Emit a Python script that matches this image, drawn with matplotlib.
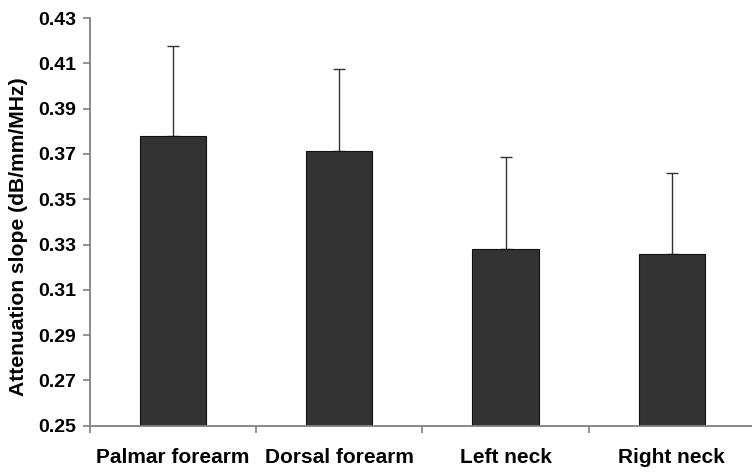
import matplotlib
matplotlib.use("Agg")
import matplotlib.pyplot as plt
import numpy as np

# -------------------------------------------------------------------
# Data
# -------------------------------------------------------------------
sites = ["Palmar forearm", "Dorsal forearm", "Left neck", "Right neck"]
means = [0.378, 0.3715, 0.328, 0.326]
sds = [0.0397, 0.036, 0.0407, 0.0355]
y_ticks = [0.25, 0.27, 0.29, 0.31, 0.33, 0.35, 0.37, 0.39, 0.41, 0.43]

plt.rcParams["font.family"] = ["Liberation Sans", "DejaVu Sans"]
plt.rcParams["font.weight"] = "bold"

fig = plt.figure(figsize=(7.52, 4.75), dpi=100)
ax = fig.add_axes([89.7 / 752, 49.3 / 475, 665.3 / 752, 407.7 / 475])

x = np.arange(len(sites))
ax.bar(x, means, width=0.4, color="#333333", edgecolor="#111111", linewidth=0.8, zorder=2)
ax.errorbar(x, means, yerr=[np.zeros(len(sds)), sds], fmt="none",
            ecolor="#333333", elinewidth=1.0, capsize=4, capthick=1.0, zorder=1)

ax.set_xlim(-0.5, 3.5)
ax.set_ylim(0.25, 0.43)
ax.set_yticks(y_ticks)
ax.set_yticklabels([f"{v:.2f}" for v in y_ticks], fontsize=14, fontweight="bold")

# category labels centred, ticks between categories
ax.set_xticks(np.arange(-0.5, 3.6, 1.0))
ax.set_xticklabels([])
ax.set_xticks(x, minor=True)
ax.set_xticklabels(sites, minor=True, fontsize=15, fontweight="bold")
ax.tick_params(axis="x", which="minor", length=0, pad=16)
ax.tick_params(axis="x", which="major", length=5, width=1.2, color="#808080", direction="out")
ax.tick_params(axis="y", length=5, width=1.2, color="#808080", direction="out", pad=5)

for side in ["top", "right"]:
    ax.spines[side].set_visible(False)
for side in ["left", "bottom"]:
    ax.spines[side].set_color("#808080")
    ax.spines[side].set_linewidth(1.3)

ax.set_ylabel("Attenuation slope (dB/mm/MHz)", fontsize=15.2, fontweight="bold")
ax.yaxis.set_label_coords(-0.092, 0.463)

fig.savefig("out.png", dpi=100)
